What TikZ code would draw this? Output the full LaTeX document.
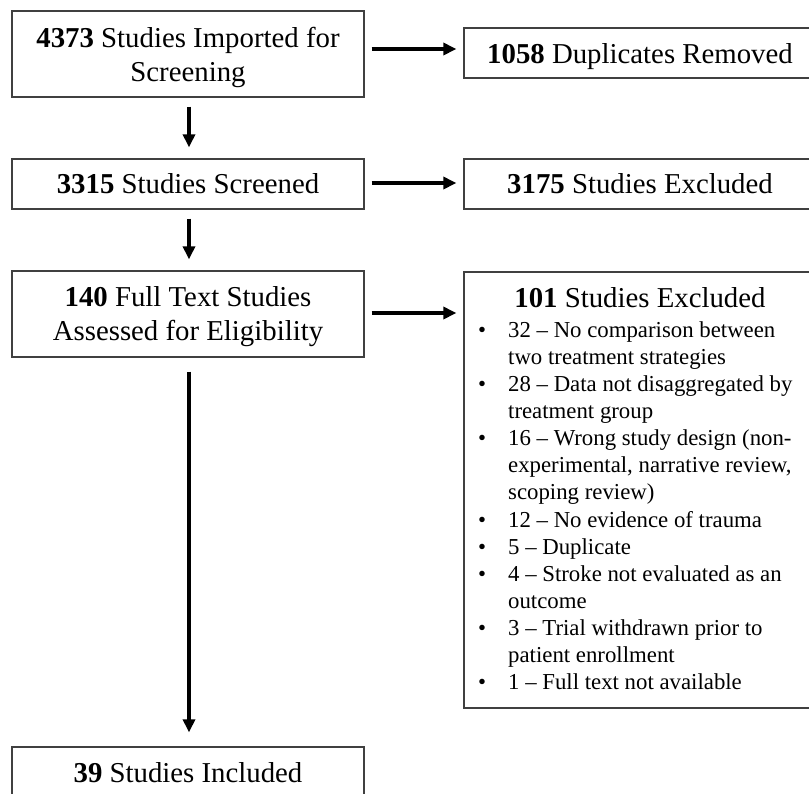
\documentclass[tikz,border=0pt]{standalone}
\usepackage{fontspec}
\setmainfont{Liberation Serif}
\usetikzlibrary{arrows.meta,calc}
\begin{document}
\begin{tikzpicture}[x=1pt,y=-1pt,
  box/.style={draw=black!75, line width=1.3pt, minimum width=352pt, inner xsep=0pt, inner ysep=0pt, anchor=base, font=\fontsize{28.8}{34.5}\selectfont},
  listtext/.style={anchor=base west, inner sep=0pt, font=\fontsize{22.8}{27.15}\selectfont},
  arr/.style={line width=3.3pt, -{Triangle[length=13pt,width=12pt]}},
]
\useasboundingbox (0,0) rectangle (809,793);
\clip (0,0) rectangle (809,793);

% left column
\node[box, text height=36pt, text depth=50pt] (b1) at (188,47)
  {\begin{tabular}[t]{@{}c@{}}\textbf{4373} Studies Imported for\\ Screening\end{tabular}};
\node[box, text height=34pt, text depth=16pt] (b3) at (188,193)
  {\textbf{3315} Studies Screened};
\node[box, text height=35pt, text depth=51pt] (b5) at (188,306)
  {\begin{tabular}[t]{@{}c@{}}\textbf{140} Full Text Studies\\ Assessed for Eligibility\end{tabular}};
\node[box, text height=35pt, text depth=16pt] (b6) at (188,782)
  {\textbf{39} Studies Included};

% right column
\node[box, text height=35pt, text depth=15pt] (r1) at (640,63)
  {\textbf{1058} Duplicates Removed};
\node[box, text height=34pt, text depth=16pt] (r3) at (640,193)
  {\textbf{3175} Studies Excluded};
\node[box, text height=35pt, text depth=401pt] (r5) at (640,307)
  {\textbf{101} Studies Excluded};
\node[listtext] (lst) at (478,337)
  {\begin{tabular}[t]{@{}c@{\hspace{22pt}}l@{}}
  • & 32 – No comparison between\\
    & two treatment strategies\\
  • & 28 – Data not disaggregated by\\
    & treatment group\\
  • & 16 – Wrong study design (non-\\
    & experimental, narrative review,\\
    & scoping review)\\
  • & 12 – No evidence of trauma\\
  • & 5 – Duplicate\\
  • & 4 – Stroke not evaluated as an\\
    & outcome\\
  • & 3 – Trial withdrawn prior to\\
    & patient enrollment\\
  • & 1 – Full text not available
  \end{tabular}};

% connectors
\draw[arr] ($(b1.east)+(7,-5)$) -- ($(r1.west)+(-7,-4)$);
\draw[arr] ($(b3.east)+(7,-1)$) -- ($(r3.west)+(-7,-1)$);
\draw[arr] ($(b5.east)+(7,-1)$) -- ($(b5.east -| r5.west)+(-7,-1)$);
\draw[arr] ($(b1.south)+(1,9)$) -- ($(b3.north)+(1,-11)$);
\draw[arr] ($(b3.south)+(1,9)$) -- ($(b5.north)+(1,-11)$);
\draw[arr] ($(b5.south)+(1,14)$) -- ($(b6.north)+(1,-14)$);
\end{tikzpicture}
\end{document}
